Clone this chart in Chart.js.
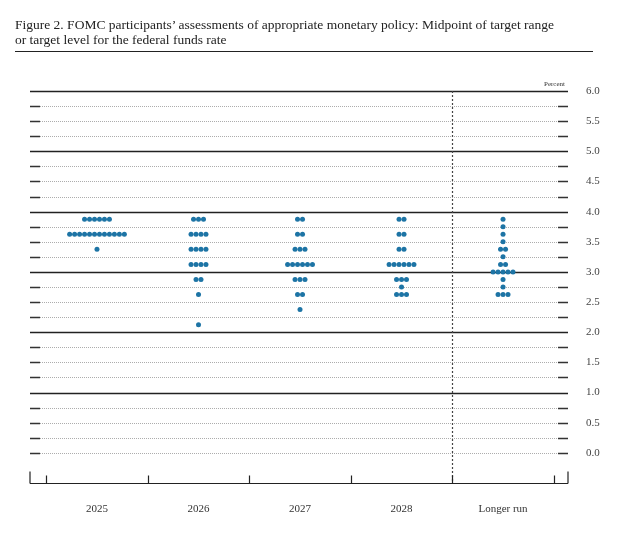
<!DOCTYPE html>
<html><head><meta charset="utf-8">
<script src="https://cdn.jsdelivr.net/npm/chart.js@4"></script>
<style>
body{margin:0;background:#fff;}
#wrap{position:relative;width:628px;height:551px;}
#title{position:absolute;left:15px;top:17px;width:600px;font-family:"Liberation Serif",serif;font-size:13.5px;line-height:15px;color:#222;}
#rule{position:absolute;left:15px;top:51px;width:578px;border-top:1.5px solid #222;}
#pct{position:absolute;left:544px;top:80px;font-family:"Liberation Serif",serif;font-size:7px;color:#333;}
canvas{position:absolute;left:0;top:0;}
</style></head><body>
<div id="wrap">
<canvas id="c" width="628" height="551"></canvas>
<div id="title">Figure 2. FOMC participants’ assessments of appropriate monetary policy: Midpoint of target range<br>or target level for the federal funds rate</div>
<div id="rule"></div>
<div id="pct">Percent</div>
</div>
<script>
const categories = ["2025", "2026", "2027", "2028", "Longer run"];
// midpoint levels and number of participants at each, per category
const levels2025 = [3.875, 3.625, 3.375];
const counts2025 = [6, 12, 1];
const levels2026 = [3.875, 3.625, 3.375, 3.125, 2.875, 2.625, 2.125];
const counts2026 = [3, 4, 4, 4, 2, 1, 1];
const levels2027 = [3.875, 3.625, 3.375, 3.125, 2.875, 2.625, 2.375];
const counts2027 = [2, 2, 3, 6, 3, 2, 1];
const levels2028 = [3.875, 3.625, 3.375, 3.125, 2.875, 2.75, 2.625];
const counts2028 = [2, 2, 2, 6, 3, 1, 3];
const levelsLR = [3.875, 3.75, 3.625, 3.5, 3.375, 3.25, 3.125, 3.0, 2.875, 2.75, 2.625];
const countsLR = [1, 1, 1, 1, 2, 1, 2, 5, 1, 1, 3];

const allLevels = [levels2025, levels2026, levels2027, levels2028, levelsLR];
const allCounts = [counts2025, counts2026, counts2027, counts2028, countsLR];
const DOT_GAP = 0.049;

const points = [];
allLevels.forEach((lv, ci) => {
  lv.forEach((v, k) => {
    const n = allCounts[ci][k];
    for(let j = 0; j < n; j++){
      points.push({x: ci + (j - (n - 1) / 2) * DOT_GAP, y: v});
    }
  });
});

const frame = {
  id: "frame",
  beforeDatasetsDraw(chart){
    const {ctx, chartArea: a, scales: {x, y}} = chart;
    ctx.save();
    for(let v = 0; v <= 6.001; v += 0.25){
      const py = Math.round(y.getPixelForValue(v)) + 0.5;
      const major = Math.abs(v - Math.round(v)) < 1e-6 && v > 0;
      ctx.beginPath();
      if(major){
        ctx.strokeStyle = "#222"; ctx.lineWidth = 1.3; ctx.setLineDash([]);
        ctx.moveTo(a.left, py); ctx.lineTo(a.right, py); ctx.stroke();
      } else {
        ctx.strokeStyle = "#999"; ctx.lineWidth = 0.8; ctx.setLineDash([1, 1]);
        ctx.moveTo(a.left + 10, py); ctx.lineTo(a.right - 10, py); ctx.stroke();
        ctx.setLineDash([]); ctx.strokeStyle = "#333"; ctx.lineWidth = 1.5;
        ctx.beginPath();
        ctx.moveTo(a.left, py); ctx.lineTo(a.left + 10, py);
        ctx.moveTo(a.right - 10, py); ctx.lineTo(a.right, py);
        ctx.stroke();
      }
    }
    // separator
    const sx = Math.round(x.getPixelForValue(3.5)) + 0.5;
    ctx.strokeStyle = "#444"; ctx.lineWidth = 1.2; ctx.setLineDash([2, 2]);
    ctx.beginPath(); ctx.moveTo(sx, y.getPixelForValue(6)); ctx.lineTo(sx, a.bottom); ctx.stroke();
    // bottom axis
    ctx.setLineDash([]); ctx.strokeStyle = "#222"; ctx.lineWidth = 1.2;
    const by = Math.round(a.bottom) + 0.5;
    ctx.beginPath(); ctx.moveTo(a.left, by); ctx.lineTo(a.right, by);
    ctx.moveTo(a.left, by); ctx.lineTo(a.left, by - 12);
    ctx.moveTo(a.right, by); ctx.lineTo(a.right, by - 12);
    [-0.5, 0.5, 1.5, 2.5, 3.5, 4.5].forEach(v => {
      const px = Math.round(x.getPixelForValue(v)) + 0.5;
      ctx.moveTo(px, by); ctx.lineTo(px, by - 8);
    });
    ctx.stroke();
    ctx.restore();
  }
};

new Chart(document.getElementById("c"), {
  type: "scatter",
  data: { datasets: [{ data: points, backgroundColor: "#1d74a5", borderWidth: 0, pointRadius: 2.5 }] },
  options: {
    responsive: false, animation: false,
    layout: { padding: { left: 30, top: 91, right: 0, bottom: 0 } },
    plugins: { legend: { display: false }, tooltip: { enabled: false } },
    scales: {
      x: {
        type: "linear", min: -0.66, max: 4.64,
        grid: { display: false }, border: { display: false },
        afterBuildTicks: s => { s.ticks = categories.map((c, i) => ({ value: i })); },
        afterFit: s => { s.height = 68; },
        ticks: { padding: 12, color: "#333", font: { family: "Liberation Serif", size: 11 },
          callback: v => categories[v] },
      },
      y: {
        position: "right", min: -0.5, max: 6,
        grid: { display: false }, border: { display: false },
        afterBuildTicks: s => { const t = []; for(let v = 0; v <= 6; v += 0.5) t.push({value: v}); s.ticks = t; },
        afterFit: s => { s.width = 60; },
        ticks: { padding: 10, color: "#444", font: { family: "Liberation Serif", size: 11 },
          callback: v => v.toFixed(1) },
      }
    }
  },
  plugins: [frame]
});
</script>
</body></html>
